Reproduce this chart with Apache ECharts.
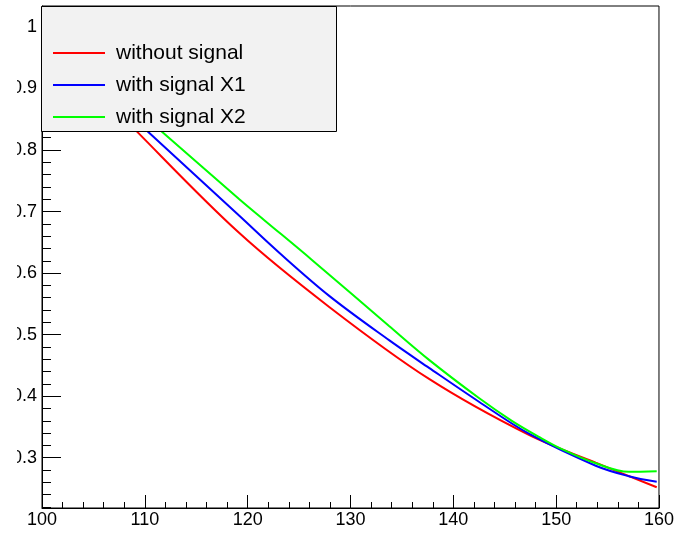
<!DOCTYPE html>
<html><head><meta charset="utf-8">
<script src="https://cdn.jsdelivr.net/npm/echarts@6/dist/echarts.min.js"></script>
<style>html,body{margin:0;padding:0;background:#fff}#c{width:677px;height:536px}</style>
</head><body><div id="c"></div>
<script>
const seriesNames = ['without signal', 'with signal X1', 'with signal X2'];
const seriesColors = ['#ff0000', '#0000ff', '#00ff00'];

const redX   = [105, 109.29, 119.19, 127.93, 137.64, 147.35, 153.85, 159.78];
const redY   = [0.905, 0.829, 0.665, 0.545, 0.428, 0.337, 0.292, 0.252];

const blueX  = [105, 110.36, 119.19, 123.07, 127.93, 133.75, 137.64, 142.49, 147.35, 153.85, 157.06, 159.78];
const blueY  = [0.912, 0.829, 0.693, 0.633, 0.563, 0.491, 0.446, 0.391, 0.339, 0.287, 0.270, 0.261];

const greenX = [105, 111.72, 119.19, 121.62, 126.28, 133.75, 137.64, 142.49, 145.69, 148.32, 150.56, 153.85, 157.06, 159.78];
const greenY = [0.927, 0.829, 0.720, 0.686, 0.621, 0.514, 0.459, 0.397, 0.360, 0.334, 0.314, 0.291, 0.277, 0.278];

const xMin = 100, xMax = 160, xStep = 10;
const yMin = 0.2183, yMax = 1.034;
const yTickLabels = [0.3, 0.4, 0.5, 0.6, 0.7, 0.8, 0.9, 1.0];
const yMinorTicks = [0.22, 0.24, 0.26, 0.28, 0.30, 0.32, 0.34, 0.36, 0.38, 0.40,
  0.42, 0.44, 0.46, 0.48, 0.50, 0.52, 0.54, 0.56, 0.58, 0.60,
  0.62, 0.64, 0.66, 0.68, 0.70, 0.72, 0.74, 0.76, 0.78, 0.80,
  0.82, 0.84, 0.86, 0.88, 0.90, 0.92, 0.94, 0.96, 0.98, 1.00, 1.02];

const FONT = '"Liberation Sans", Arial, sans-serif';
function pairs(xs, ys) { return xs.map((x, i) => [x, ys[i]]); }
const seriesData = [pairs(redX, redY), pairs(blueX, blueY), pairs(greenX, greenY)];

const chart = echarts.init(document.getElementById('c'), null, {renderer: 'canvas'});
chart.setOption({
  animation: false,
  backgroundColor: '#fff',
  grid: {left: 42, right: 16, top: 6, bottom: 28, show: true, borderColor: '#000', borderWidth: 1, backgroundColor: 'transparent'},
  xAxis: {
    type: 'value', min: xMin, max: xMax, interval: xStep,
    axisLine: {show: true, lineStyle: {color: '#000', width: 1}},
    axisTick: {show: true, inside: true, length: 13, lineStyle: {color: '#000'}},
    minorTick: {show: true, splitNumber: 5, length: 6, lineStyle: {color: '#000'}},
    axisLabel: {fontSize: 18, color: '#000', margin: 3, fontFamily: FONT},
    splitLine: {show: false}, minorSplitLine: {show: false}
  },
  yAxis: [{
    type: 'value', min: yMin, max: yMax, position: 'left',
    axisLine: {show: true, lineStyle: {color: '#000', width: 1}},
    axisTick: {show: true, inside: true, length: 19, customValues: yTickLabels, lineStyle: {color: '#000'}},
    axisLabel: {show: true, customValues: yTickLabels, fontSize: 18, color: '#000', margin: 5, fontFamily: FONT,
      padding: [4, 0, 0, 0],
      formatter: v => (Math.abs(v - 1) < 1e-9 ? '1' : v.toFixed(1))},
    splitLine: {show: false}
  }, {
    type: 'value', min: yMin, max: yMax, position: 'left',
    axisLine: {show: false},
    axisTick: {show: true, inside: true, length: 9, customValues: yMinorTicks, lineStyle: {color: '#000'}},
    axisLabel: {show: false},
    splitLine: {show: false}
  }],
  legend: {
    show: true, orient: 'vertical', left: 53, top: 42, padding: 0, itemGap: 10,
    itemWidth: 52, itemHeight: 2, icon: 'rect', z: 20,
    data: seriesNames,
    textStyle: {fontSize: 21, lineHeight: 22, color: '#000', fontFamily: FONT, padding: [0, 0, 0, 6]}
  },
  graphic: [
    {type: 'rect', z: 10, shape: {x: 41.5, y: 6.5, width: 295, height: 125}, style: {fill: '#f2f2f2', stroke: '#000', lineWidth: 1}},
    {type: 'rect', z: 100, shape: {x: 0, y: 0, width: 17, height: 500}, style: {fill: '#fff'}}
  ],
  series: seriesNames.map((name, i) => ({
    name: name, type: 'line', yAxisIndex: 0, data: seriesData[i],
    showSymbol: false, smooth: 0.35, clip: true,
    itemStyle: {color: seriesColors[i]},
    lineStyle: {color: seriesColors[i], width: 2}
  }))
});
</script>
</body></html>
